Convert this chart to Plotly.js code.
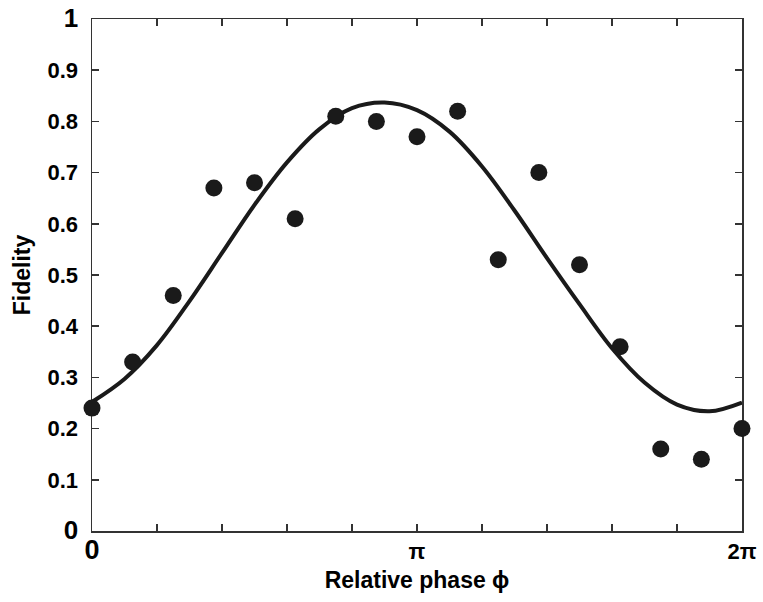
<!DOCTYPE html>
<html>
<head>
<meta charset="utf-8">
<script src="https://cdn.plot.ly/plotly-3.0.1.min.js"></script>
<style>html,body{margin:0;padding:0;background:#fff;}#chart{width:763px;height:602px;}</style>
</head>
<body>
<div id="chart"></div>
<script>
// Measured data points (phase in units of pi)
const pointPhasePi = [0, 0.125, 0.25, 0.375, 0.5, 0.625, 0.75, 0.875, 1.0, 1.125, 1.25, 1.375, 1.5, 1.625, 1.75, 1.875, 2.0];
const pointFidelity = [0.24, 0.33, 0.46, 0.67, 0.68, 0.61, 0.81, 0.80, 0.77, 0.82, 0.53, 0.70, 0.52, 0.36, 0.16, 0.14, 0.20];

// Fitted curve (phase in units of pi)
const curvePhasePi = [0, 0.1, 0.2, 0.3, 0.4, 0.5, 0.6, 0.7, 0.8, 0.9, 1.0, 1.1, 1.2, 1.3, 1.4, 1.5, 1.6, 1.7, 1.8, 1.9, 2.0];
const curveFidelity = [0.252, 0.297, 0.363, 0.449, 0.543, 0.637, 0.720, 0.785, 0.826, 0.837, 0.822, 0.780, 0.712, 0.626, 0.533, 0.443, 0.357, 0.290, 0.247, 0.234, 0.251];

// Axis ticks
const xTickPi = [0, 0.2, 0.4, 0.6, 0.8, 1.0, 1.2, 1.4, 1.6, 1.8, 2.0];
const xTickText = ['<span style="font-size:27px">0</span>', '', '', '', '', 'π', '', '', '', '', '2π'];
const yTickVals = [0, 0.1, 0.2, 0.3, 0.4, 0.5, 0.6, 0.7, 0.8, 0.9, 1];
const yTickText = ['<span style="font-size:26px">0</span>', '0.1', '0.2', '0.3', '0.4', '0.5', '0.6', '0.7', '0.8', '0.9', '<span style="font-size:26px">1</span>'];

const ink = '#1a1a1a';
const fontFam = 'Liberation Sans, Arial, Helvetica, sans-serif';

const traces = [
  {
    x: curvePhasePi.map(v => v * Math.PI),
    y: curveFidelity,
    mode: 'lines',
    line: {color: ink, width: 4, shape: 'spline', smoothing: 1},
    hoverinfo: 'skip',
    cliponaxis: false
  },
  {
    x: pointPhasePi.map(v => v * Math.PI),
    y: pointFidelity,
    mode: 'markers',
    marker: {color: ink, size: 17, line: {width: 0}},
    cliponaxis: false
  }
];

const axisCommon = {
  showline: true,
  linecolor: '#333',
  linewidth: 1.5,
  mirror: 'ticks',
  ticks: 'inside',
  ticklen: 7,
  tickwidth: 1.5,
  tickcolor: '#333',
  showgrid: false,
  zeroline: false,
  layer: 'below traces',
  tickfont: {family: fontFam, size: 22, color: '#000', weight: 700}
};

const layout = {
  width: 763,
  height: 602,
  margin: {l: 92, r: 21, t: 19, b: 71},
  paper_bgcolor: '#fff',
  plot_bgcolor: '#fff',
  showlegend: false,
  xaxis: Object.assign({}, axisCommon, {
    range: [0, 2 * Math.PI],
    tickmode: 'array',
    tickvals: xTickPi.map(v => v * Math.PI),
    ticktext: xTickText,
    ticklabelstandoff: 0,
    title: {text: 'Relative phase ϕ', font: {family: fontFam, size: 23, color: '#000', weight: 700}, standoff: 8}
  }),
  yaxis: Object.assign({}, axisCommon, {
    range: [0, 1],
    tickmode: 'array',
    tickvals: yTickVals,
    ticktext: yTickText,
    ticklabelstandoff: 8,
    title: {text: 'Fidelity', font: {family: fontFam, size: 23, color: '#000', weight: 700}, standoff: 10}
  })
};

Plotly.newPlot('chart', traces, layout, {displayModeBar: false, staticPlot: true});
</script>
</body>
</html>
